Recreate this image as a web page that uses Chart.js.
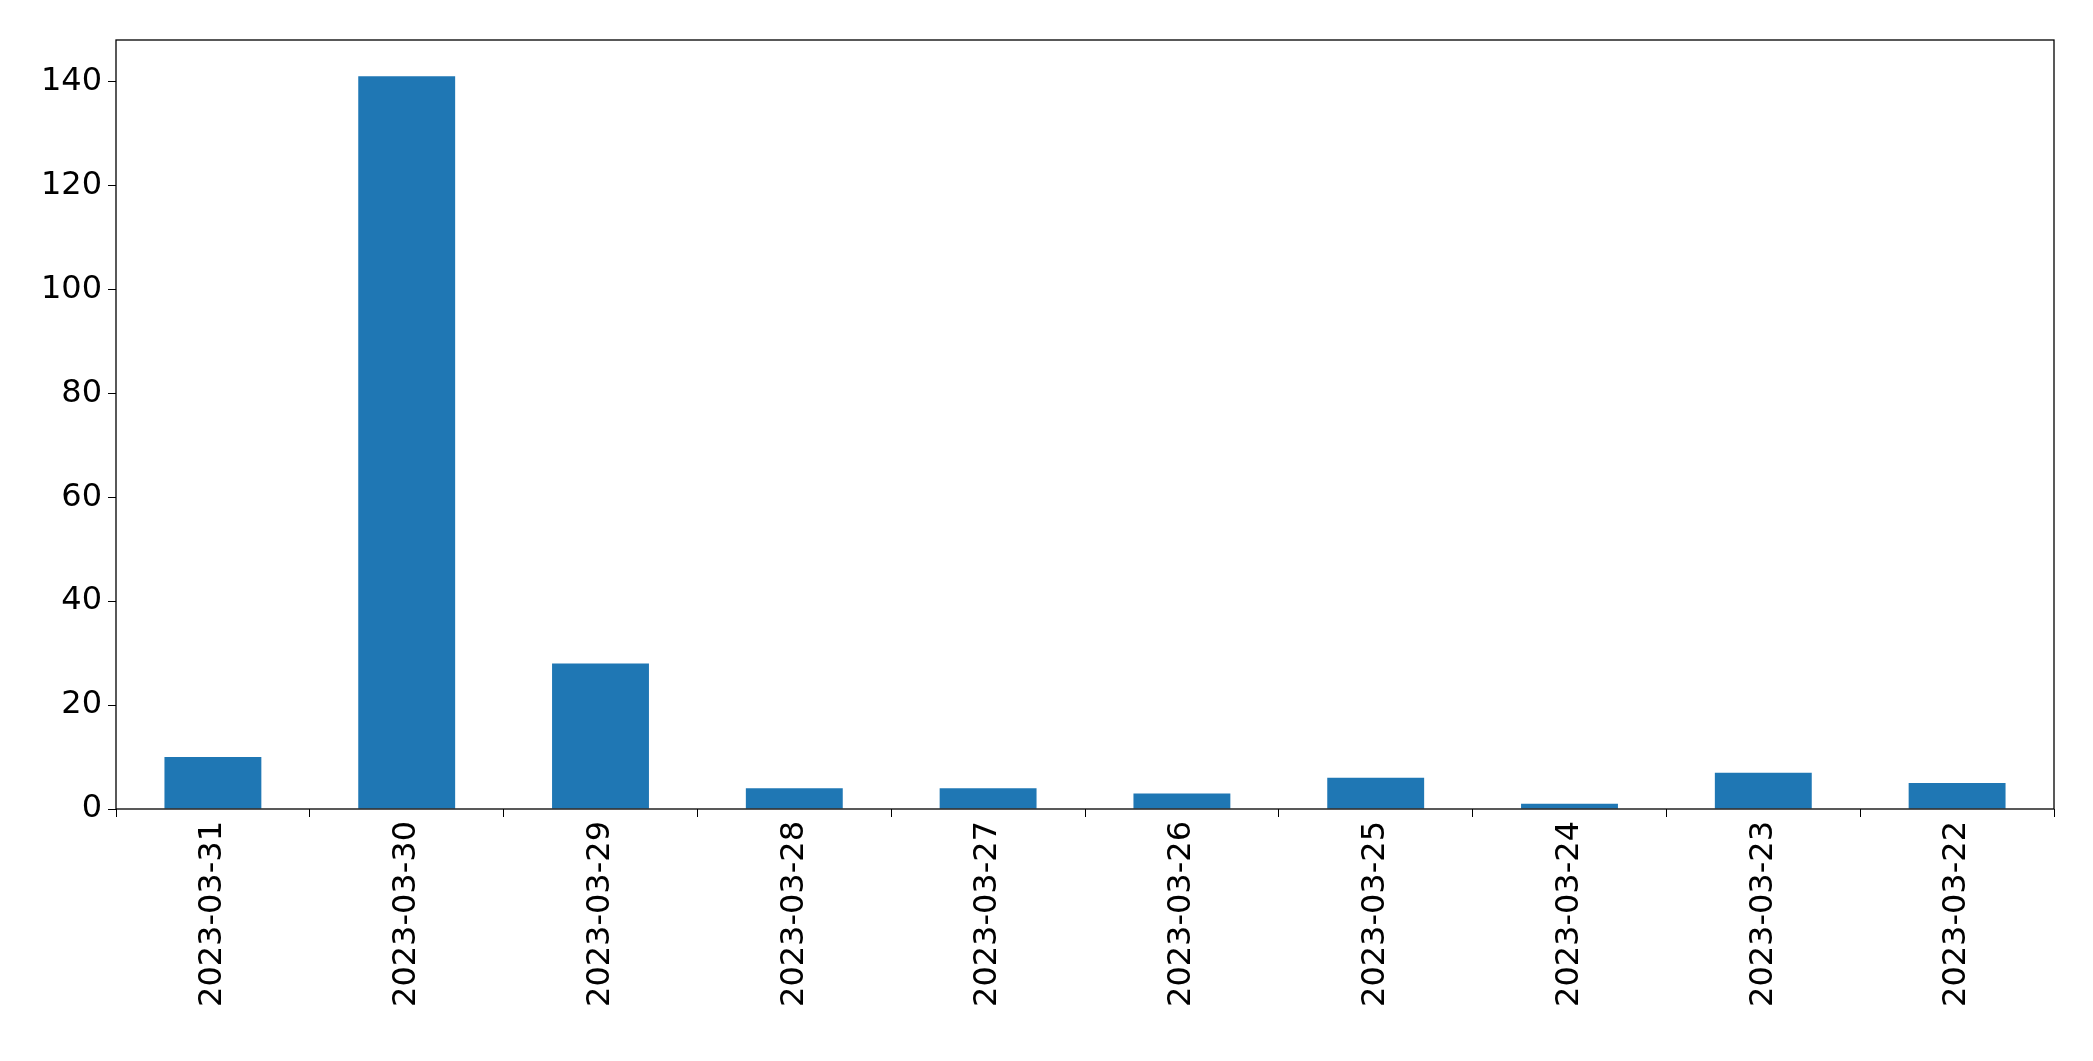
<!DOCTYPE html>
<html><head><meta charset="utf-8">
<script src="https://cdn.jsdelivr.net/npm/chart.js@4"></script>
<style>html,body{margin:0;padding:0;background:#fff}#wrap{width:2093px;height:1061px}</style>
</head><body><div id="wrap"><canvas id="chart"></canvas></div>
<script>
// Data
const dates = ['2023-03-31','2023-03-30','2023-03-29','2023-03-28','2023-03-27','2023-03-26','2023-03-25','2023-03-24','2023-03-23','2023-03-22'];
const counts = [10, 141, 28, 4, 4, 3, 6, 1, 7, 5];
const yTicks = [0, 20, 40, 60, 80, 100, 120, 140];

// frame around the plot area
const frame = {
    id: 'frame',
    afterDraw(chart) {
        const a = chart.chartArea, c = chart.ctx;
        c.save();
        c.strokeStyle = '#000';
        c.lineWidth = 1.3;
        c.strokeRect(a.left, a.top, a.right - a.left, a.bottom - a.top);
        c.restore();
    }
};

new Chart(document.getElementById('chart').getContext('2d'), {
    type: 'bar',
    data: {
        labels: dates,
        datasets: [{data: counts, backgroundColor: '#1f77b4', categoryPercentage: 1, barPercentage: 0.5}]
    },
    options: {
        responsive: true,
        maintainAspectRatio: false,
        animation: false,
        layout: {padding: {top: 40, right: 39, left: 0, bottom: 0}},
        plugins: {legend: {display: false}, tooltip: {enabled: false}},
        scales: {
            x: {
                afterFit(s) { s.height = 252; },
                border: {display: false},
                grid: {drawOnChartArea: false, drawTicks: true, tickLength: 8, color: '#000'},
                ticks: {color: '#000', font: {family: 'DejaVu Sans', size: 32}, minRotation: 90, maxRotation: 90, padding: 4}
            },
            y: {
                min: 0, max: 148,
                afterFit(s) { s.width = 116; },
                afterBuildTicks(s) { s.ticks = yTicks.map(v => ({value: v})); },
                border: {display: false},
                grid: {drawOnChartArea: false, drawTicks: true, tickLength: 8, color: '#000'},
                ticks: {color: '#000', font: {family: 'DejaVu Sans', size: 32}, padding: 6}
            }
        }
    },
    plugins: [frame]
});
</script></body></html>
